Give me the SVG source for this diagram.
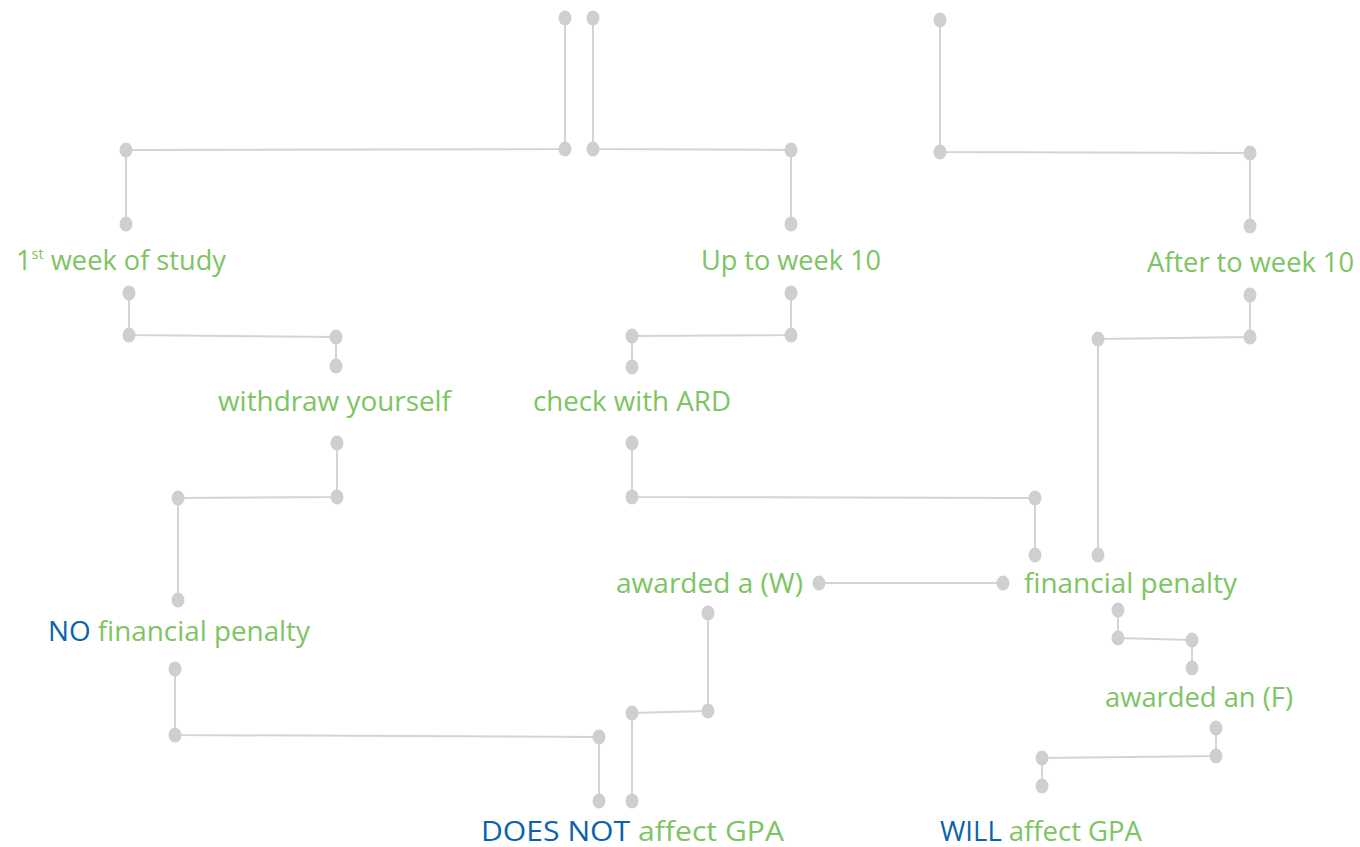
<svg xmlns="http://www.w3.org/2000/svg" width="1360" height="847" viewBox="0 0 1360 847">
<style>
.c{fill:none;stroke:#d4d4d6;stroke-width:2}
.d{fill:#cfcfd2}
.t{font-family:"Open Sans","Noto Sans",sans-serif;font-size:28px;fill:#7dc462}
.b{fill:#0b63ad}
</style>
<defs><ellipse id="dot" rx="6.5" ry="7.5" class="d"/></defs>
<rect width="1360" height="847" fill="#fff"/>
<g id="connectors">
<polyline class="c" points="565,18 565,149 126,150 126,224"/>
<polyline class="c" points="593,18 593,149 791,150 791,224"/>
<polyline class="c" points="940,20 940,152 1250,153 1250,226"/>
<polyline class="c" points="129,293 129,335 336,337 336,366"/>
<polyline class="c" points="791,293 791,335 632,336 632,367"/>
<polyline class="c" points="1250,295 1250,337 1098,339 1098,555"/>
<polyline class="c" points="337,443 337,497 178,498 178,600"/>
<polyline class="c" points="632,443 632,497 1035,498 1035,555"/>
<polyline class="c" points="819,583 1003,583"/>
<polyline class="c" points="1118,610 1118,638 1192,640 1192,668"/>
<polyline class="c" points="175,669 175,735 599,737 599,801"/>
<polyline class="c" points="708,613 708,711 632,713 632,801"/>
<polyline class="c" points="1216,728 1216,756 1042,758 1042,786"/>
<g id="dots">
<use href="#dot" x="565" y="18"/><use href="#dot" x="565" y="149"/><use href="#dot" x="126" y="150"/><use href="#dot" x="126" y="224"/>
<use href="#dot" x="593" y="18"/><use href="#dot" x="593" y="149"/><use href="#dot" x="791" y="150"/><use href="#dot" x="791" y="224"/>
<use href="#dot" x="940" y="20"/><use href="#dot" x="940" y="152"/><use href="#dot" x="1250" y="153"/><use href="#dot" x="1250" y="226"/>
<use href="#dot" x="129" y="293"/><use href="#dot" x="129" y="335"/><use href="#dot" x="336" y="337"/><use href="#dot" x="336" y="366"/>
<use href="#dot" x="791" y="293"/><use href="#dot" x="791" y="335"/><use href="#dot" x="632" y="336"/><use href="#dot" x="632" y="367"/>
<use href="#dot" x="1250" y="295"/><use href="#dot" x="1250" y="337"/><use href="#dot" x="1098" y="339"/><use href="#dot" x="1098" y="555"/>
<use href="#dot" x="337" y="443"/><use href="#dot" x="337" y="497"/><use href="#dot" x="178" y="498"/><use href="#dot" x="178" y="600"/>
<use href="#dot" x="632" y="443"/><use href="#dot" x="632" y="497"/><use href="#dot" x="1035" y="498"/><use href="#dot" x="1035" y="555"/>
<use href="#dot" x="819" y="583"/><use href="#dot" x="1003" y="583"/>
<use href="#dot" x="1118" y="610"/><use href="#dot" x="1118" y="638"/><use href="#dot" x="1192" y="640"/><use href="#dot" x="1192" y="668"/>
<use href="#dot" x="175" y="669"/><use href="#dot" x="175" y="735"/><use href="#dot" x="599" y="737"/><use href="#dot" x="599" y="801"/>
<use href="#dot" x="708" y="613"/><use href="#dot" x="708" y="711"/><use href="#dot" x="632" y="713"/><use href="#dot" x="632" y="801"/>
<use href="#dot" x="1216" y="728"/><use href="#dot" x="1216" y="756"/><use href="#dot" x="1042" y="758"/><use href="#dot" x="1042" y="786"/>
</g>
</g>
<g id="n-week1"><text class="t" x="16" y="270" textLength="210" lengthAdjust="spacingAndGlyphs">1<tspan font-size="15" dy="-11">st</tspan><tspan dy="11"> week of study</tspan></text></g>
<g id="n-upto10"><text class="t" x="701" y="270" textLength="180" lengthAdjust="spacingAndGlyphs">Up to week 10</text></g>
<g id="n-after10"><text class="t" x="1147" y="272" textLength="207" lengthAdjust="spacingAndGlyphs">After to week 10</text></g>
<g id="n-withdraw"><text class="t" x="218" y="411" textLength="233" lengthAdjust="spacingAndGlyphs">withdraw yourself</text></g>
<g id="n-ard"><text class="t" x="533" y="411" textLength="198" lengthAdjust="spacingAndGlyphs">check with ARD</text></g>
<g id="n-w"><text class="t" x="616" y="593" textLength="187" lengthAdjust="spacingAndGlyphs">awarded a (W)</text></g>
<g id="n-penalty"><text class="t" x="1024" y="593" textLength="213" lengthAdjust="spacingAndGlyphs">financial penalty</text></g>
<g id="n-nopenalty"><text class="t" x="48" y="641" textLength="262" lengthAdjust="spacingAndGlyphs"><tspan class="b">NO</tspan> financial penalty</text></g>
<g id="n-f"><text class="t" x="1105" y="707" textLength="188" lengthAdjust="spacingAndGlyphs">awarded an (F)</text></g>
<g id="n-doesnot"><text class="t" x="481" y="841" textLength="303" lengthAdjust="spacingAndGlyphs"><tspan class="b">DOES NOT</tspan> affect GPA</text></g>
<g id="n-will"><text class="t" x="940" y="841" textLength="202" lengthAdjust="spacingAndGlyphs"><tspan class="b">WILL</tspan> affect GPA</text></g>
</svg>
